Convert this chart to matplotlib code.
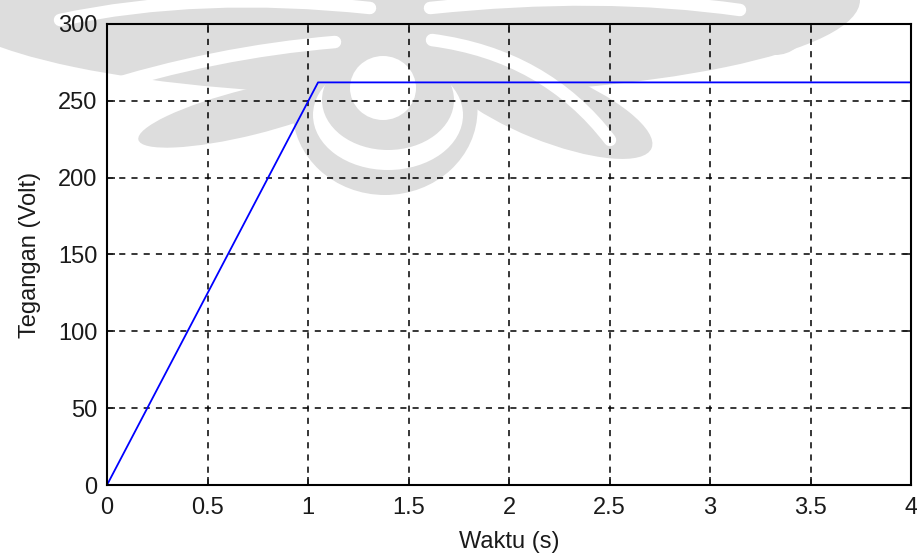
import numpy as np
import matplotlib.pyplot as plt
from matplotlib.patches import Ellipse, PathPatch
from matplotlib.path import Path

# voltage response: linear rise then steady level
waktu = [0.0, 1.05, 4.0]
tegangan = [0.0, 262.0, 262.0]

xticks = [0, 0.5, 1, 1.5, 2, 2.5, 3, 3.5, 4]
xticklabels = ['0', '0.5', '1', '1.5', '2', '2.5', '3', '3.5', '4']
yticks = [0, 50, 100, 150, 200, 250, 300]

plt.rcParams['font.family'] = 'Liberation Sans'

W, H = 917, 553
fig = plt.figure(figsize=(W / 100, H / 100), dpi=100)

# faint ornament behind the plot (pixel units, y counted from the top)
bg = fig.add_axes([0, 0, 1, 1], zorder=0)
bg.set_xlim(0, W)
bg.set_ylim(H, 0)
bg.axis('off')
grey = '#dddddd'
blobs = [
    # (cx, cy, w, h, angle, colour)
    (400, 0, 920, 190, 0, grey),
    (250, 112, 230, 46, -14, grey),
    (545, 105, 230, 70, 22, grey),
    (775, 30, 60, 50, 0, grey),
    (385, 110, 185, 170, 0, grey),
    (388, 115, 150, 110, 0, 'white'),
    (388, 100, 132, 100, 0, grey),
    (383, 88, 66, 64, 0, 'white'),
]
for cx, cy, w, h, ang, col in blobs:
    bg.add_patch(Ellipse((cx, cy), w, h, angle=ang, facecolor=col,
                         edgecolor='none'))

# white swirls cutting through the grey wings
swirls = [
    [(95, 90), (215, 52), (335, 42)],
    [(432, 40), (545, 55), (610, 140)],
    [(60, 20), (200, -10), (370, 8)],
    [(430, 8), (600, -10), (740, 10)],
]
for pts in swirls:
    p = Path(pts, [Path.MOVETO, Path.CURVE3, Path.CURVE3])
    bg.add_patch(PathPatch(p, facecolor='none', edgecolor='white', lw=9,
                           capstyle='round'))

ax = fig.add_axes([107 / W, 1 - 485 / H, (911 - 107) / W, (485 - 24) / H],
                  zorder=1)
ax.patch.set_alpha(0)

ax.plot(waktu, tegangan, color='#0000ff', linewidth=1.3)

ax.set_xlim(0, 4)
ax.set_ylim(0, 300)
ax.set_xticks(xticks)
ax.set_xticklabels(xticklabels)
ax.set_yticks(yticks)
ax.tick_params(direction='in', length=6, width=1.2, labelsize=17,
               colors='#1a1a1a')
ax.tick_params(axis='x', pad=9)
ax.tick_params(axis='y', pad=7)
ax.tick_params(top=True, right=True)
for s in ax.spines.values():
    s.set_linewidth(1.5)
    s.set_color('black')

ax.grid(True, color='black', linestyle=(0, (4, 4)), linewidth=1.1)

ax.set_xlabel('Waktu (s)', fontsize=17, color='#1a1a1a', labelpad=8)
ax.set_ylabel('Tegangan (Volt)', fontsize=17, color='#1a1a1a', labelpad=12)

fig.savefig('out.png', dpi=100)
